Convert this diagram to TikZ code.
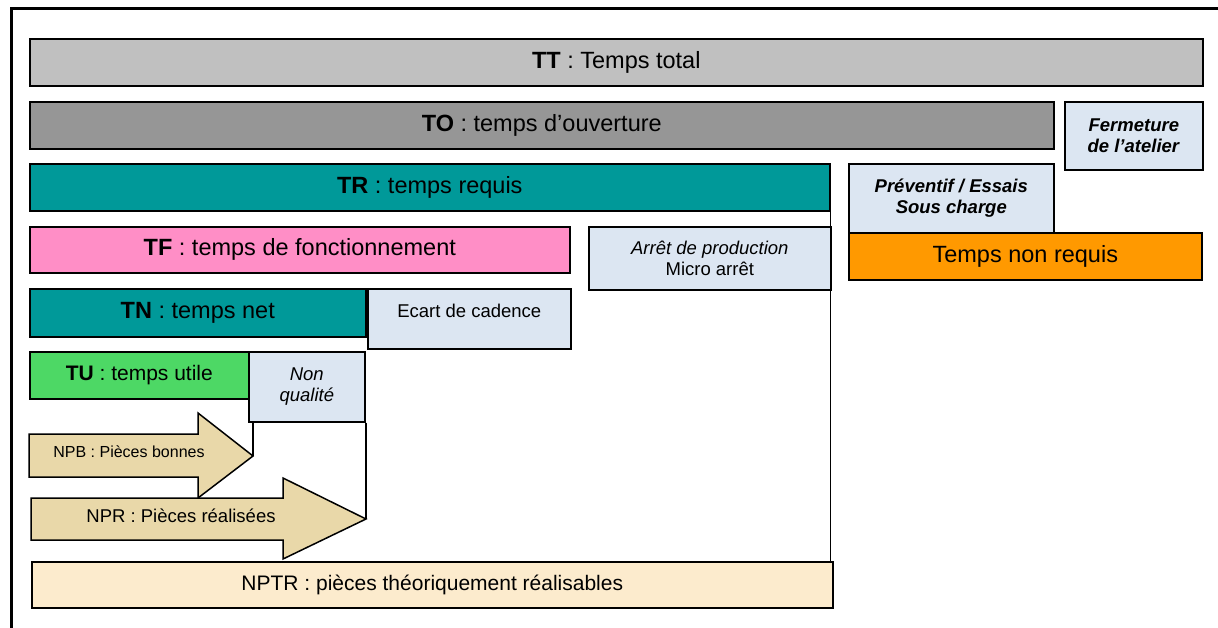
\documentclass[tikz,border=0pt]{standalone}
\usepackage{fontspec}
\setmainfont{Liberation Sans}
\definecolor{cTT}{HTML}{C0C0C0}
\definecolor{cTO}{HTML}{969696}
\definecolor{cTR}{HTML}{009999}
\definecolor{cTF}{HTML}{FF8EC6}
\definecolor{cTU}{HTML}{4DD865}
\definecolor{cBlue}{HTML}{DCE6F2}
\definecolor{cOr}{HTML}{FF9900}
\definecolor{cArr}{HTML}{E9D8A9}
\definecolor{cNPTR}{HTML}{FCEBCD}
\newcommand\fsBig{\fontsize{23.5}{27}\selectfont}
\newcommand\fsMid{\fontsize{21}{24}\selectfont}
\newcommand\fsSm{\fontsize{18.5}{21.5}\selectfont}
\newcommand\fsXs{\fontsize{16}{19}\selectfont}
\begin{document}
\begin{tikzpicture}[x=1pt,y=-1pt,
  box/.style={draw=black, line width=1.6pt, anchor=north west, inner sep=0pt, align=center},
  bluebox/.style={box, fill=cBlue, font=\fsSm},
  conn/.style={draw=black, line width=1.5pt},
  arrowshape/.style={draw=black, line width=1.5pt, fill=cArr, line join=miter}]
\useasboundingbox (0,0) rectangle (1218,628);
\fill[white] (0,0) rectangle (1218,628);
% frame
\coordinate (FA) at (11.5,628);
\coordinate (FB) at (11.5,8.5);
\coordinate (FC) at (1218,8.5);
\draw[line width=3pt] (FA) -- (FB) -- (FC);
% bars
\node[box, fill=cTT, font=\fsBig, minimum width=1173pt, minimum height=47pt] (TT) at (29,38) {\textbf{TT} : Temps total};
\node[box, fill=cTO, font=\fsBig, minimum width=1024pt, minimum height=47pt] (TO) at (29,101) {\textbf{TO} : temps d’ouverture};
\node[bluebox, minimum width=138pt, minimum height=68pt] (FE) at (1064,101) {\textbf{\textit{Fermeture}}\\\textbf{\textit{de l’atelier}}};
\node[box, fill=cTR, font=\fsBig, minimum width=800pt, minimum height=47pt] (TR) at (29,163) {\textbf{TR} : temps requis};
\node[bluebox, minimum width=205pt, minimum height=69pt] (PE) at (848,163) {\textbf{\textit{Préventif / Essais}}\\\textbf{\textit{Sous charge}}};
\node[box, fill=cOr, font=\fsBig, minimum width=353pt, minimum height=47pt] (TNR) at (848,232) {Temps non requis};
\node[box, fill=cTF, font=\fsBig, minimum width=540pt, minimum height=46pt] (TF) at (29,226) {\textbf{TF} : temps de fonctionnement};
\node[bluebox, minimum width=242pt, minimum height=63pt] (AP) at (588,226) {\textit{Arrêt de production}\\Micro arrêt};
\node[box, fill=cTR, font=\fsBig, minimum width=336pt, minimum height=48pt] (TN) at (29,288) {\textbf{TN} : temps net};
\node[bluebox, minimum width=203pt, minimum height=60pt] (EC) at (367,288) {};
\node[font=\fsSm] (ECt) at ([yshift=8pt]EC.center) {Ecart de cadence};
\node[box, fill=cTU, font=\fsMid, minimum width=219pt, minimum height=47pt] (TU) at (29,351) {\textbf{TU} : temps utile};
\node[bluebox, minimum width=116pt, minimum height=70pt] (NQ) at (248,351) {\textit{Non}\\\textit{qualité}};
% arrows
\draw[arrowshape] (29,434) -- (198,434) -- (198,413) -- (253,456) coordinate (NPBtip) -- (198,498) -- (198,477) -- (29,477) -- cycle;
\node[font=\fsXs] (NPB) at (129,452) {NPB : Pièces bonnes};
\draw[arrowshape] (31,498) -- (283,498) -- (283,478) -- (366,519) coordinate (NPRtip) -- (283,559) -- (283,540) -- (31,540) -- cycle;
\node[font=\fsSm] (NPR) at (181,516) {NPR : Pièces réalisées};
\node[box, fill=cNPTR, font=\fsMid, minimum width=801pt, minimum height=46pt] (NPTR) at (31,561) {NPTR : pièces théoriquement réalisables};
% connectors
\draw[conn] (NPBtip |- NQ.south) -- (NPBtip);
\draw[conn] (NPRtip |- NQ.south) -- (NPRtip);
\draw[conn] (TR.south east) -- (TR.south east |- NPTR.north);
\end{tikzpicture}
\end{document}
